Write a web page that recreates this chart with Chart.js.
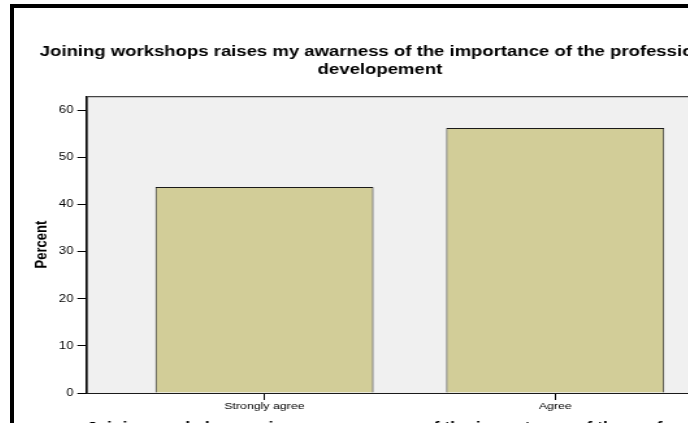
<!DOCTYPE html>
<html>
<head>
<meta charset="utf-8">
<script src="https://cdn.jsdelivr.net/npm/chart.js@4"></script>
<style>
  html, body { margin: 0; padding: 0; background: #fff; overflow: hidden; width: 688px; height: 423px; }
  #frame { position: absolute; left: 10px; top: 4px; width: 760px; height: 480px;
           border-top: 4px solid #000; border-left: 4px solid #000; }
  #chartGraph { position: absolute; left: 14px; top: 8px; }
</style>
</head>
<body>
<div id="frame"></div>
<canvas id="chartGraph" width="560" height="460" style="width:728px;height:460px"></canvas>
<script>
const ctx = document.getElementById('chartGraph');

const chartTitle = [
  'Joining workshops raises my awarness of the importance of the professional',
  'developement'
];
const categories = ['Strongly agree', 'Agree'];
const categoryPositions = [1, 2];
const percentValues = [43.75, 56.25];
const yTickValues = [0, 10, 20, 30, 40, 50, 60];

const fontFamily = '"Liberation Sans", Arial, Helvetica, sans-serif';
Chart.defaults.font.family = fontFamily;
Chart.defaults.color = '#000';

// grey plot background with a dark frame, like the SPSS output
const plotBackground = {
  id: 'plotBackground',
  beforeDraw(chart) {
    const a = chart.chartArea;
    const c = chart.ctx;
    c.save();
    c.fillStyle = '#f0f0f0';
    c.fillRect(a.left, a.top, a.right - a.left, a.bottom - a.top);
    c.restore();
  },
  beforeDatasetsDraw(chart) {
    const a = chart.chartArea;
    const c = chart.ctx;
    c.save();
    c.strokeStyle = '#1a1a1a';
    c.lineWidth = 1;
    c.strokeRect(a.left + 0.5, a.top + 0.5, a.right - a.left - 1, a.bottom - a.top);
    c.restore();
  }
};

let myChart = new Chart(ctx, {
  type: 'bar',
  data: {
    datasets: [{
      label: 'Percent',
      data: categoryPositions.map((x, i) => ({ x: x, y: percentValues[i] })),
      backgroundColor: '#d2cd98',
      borderColor: '#1a1a1a',
      borderWidth: 1,
      barPercentage: 0.75,
      categoryPercentage: 1
    }]
  },
  options: {
    responsive: false,
    devicePixelRatio: 1,
    animation: false,
    layout: { padding: { left: 10, right: 7, top: 0, bottom: 11 } },
    scales: {
      x: {
        type: 'linear',
        min: 0.388,
        max: 2.611,
        bounds: 'data',
        offset: false,
        afterBuildTicks: (scale) => {
          scale.ticks = categoryPositions.map((v) => ({ value: v }));
        },
        grid: { display: true, offset: false, drawOnChartArea: false, tickLength: 7, color: '#000' },
        border: { display: true, color: '#000' },
        ticks: {
          font: { size: 9.5 },
          color: '#000',
          padding: 1,
          maxRotation: 0,
          callback: (value, index) => categories[index]
        },
        title: {
          display: true,
          text: chartTitle,
          font: { size: 14, weight: 'bold' },
          padding: { top: 6, bottom: 4 }
        }
      },
      y: {
        min: 0,
        max: 63,
        bounds: 'data',
        afterBuildTicks: (scale) => {
          scale.ticks = yTickValues.map((v) => ({ value: v }));
        },
        grid: { display: true, drawOnChartArea: false, tickLength: 7, color: '#000' },
        border: { display: true, color: '#000' },
        ticks: { font: { size: 10 }, color: '#000', padding: 3 },
        title: {
          display: true,
          text: 'Percent',
          font: { size: 13, weight: 'bold' },
          padding: { top: 4, bottom: 2 }
        }
      }
    },
    plugins: {
      legend: { display: false },
      tooltip: { enabled: false },
      title: {
        display: true,
        text: chartTitle,
        font: { size: 14.25, weight: 'bold' },
        color: '#000',
        padding: { top: 36, bottom: 18 }
      }
    }
  },
  plugins: [plotBackground]
});
</script>
</body>
</html>
